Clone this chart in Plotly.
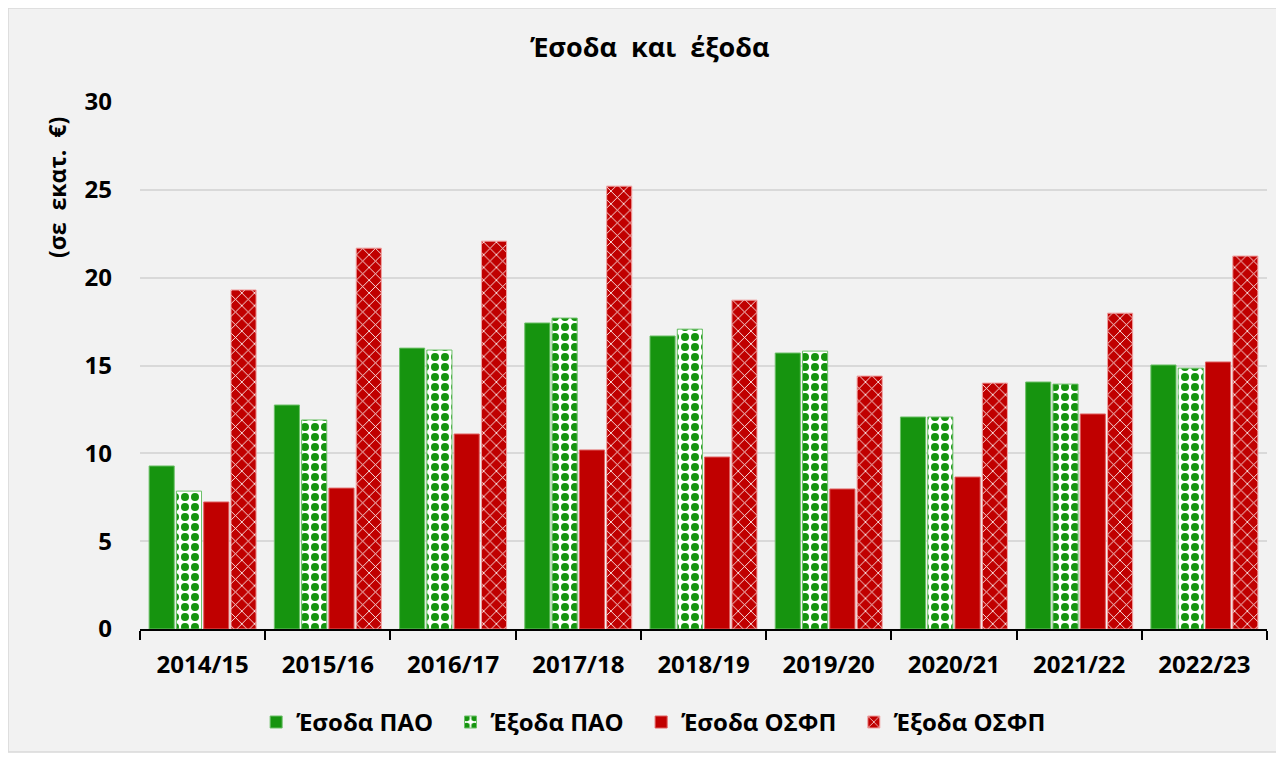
import plotly.graph_objects as go

years = ["2014/15", "2015/16", "2016/17", "2017/18", "2018/19", "2019/20", "2020/21", "2021/22", "2022/23"]
esoda_pao = [9.28, 12.75, 15.99, 17.42, 16.68, 15.71, 12.07, 14.06, 15.03]
exoda_pao = [7.85, 11.9, 15.88, 17.7, 17.07, 15.82, 12.07, 13.94, 14.85]
esoda_osfp = [7.23, 8.02, 11.1, 10.19, 9.79, 7.97, 8.65, 12.24, 15.2]
exoda_osfp = [19.3, 21.68, 22.08, 25.21, 18.72, 14.4, 14.0, 17.98, 21.23]
y_ticks = [0, 5, 10, 15, 20, 25, 30]

GREEN = "#16940f"
RED = "#c00000"
FONT = "Open Sans"
NB = "\u00a0"

fig = go.Figure()
fig.add_bar(x=years, y=esoda_pao, name="Έσοδα ΠΑΟ" + NB * 2,
            marker=dict(color=GREEN, line=dict(color="#6cc068", width=1)))
fig.add_bar(x=years, y=exoda_pao, name="Έξοδα ΠΑΟ" + NB * 2,
            marker=dict(color="white", line=dict(color="#6cc068", width=1),
                        pattern=dict(shape=".", fgcolor=GREEN, bgcolor="white",
                                     size=10, solidity=0.5, fillmode="replace")))
fig.add_bar(x=years, y=esoda_osfp, name="Έσοδα ΟΣΦΠ" + NB * 2,
            marker=dict(color=RED, line=dict(color="#e06060", width=1)))
fig.add_bar(x=years, y=exoda_osfp, name="Έξοδα ΟΣΦΠ",
            marker=dict(color=RED, line=dict(color="#f0a0a0", width=1),
                        pattern=dict(shape="x", fgcolor="white", bgcolor=RED,
                                     size=9, solidity=0.18, fillmode="replace")))

fig.update_layout(
    width=1276, height=752,
    margin=dict(l=132, r=17, t=94, b=131),
    paper_bgcolor="white",
    plot_bgcolor="rgba(0,0,0,0)",
    barmode="group", bargap=0.128, bargroupgap=0.08,
    font=dict(family=FONT, color="black", size=16),
    title=dict(text="<b>Έσοδα" + NB * 2 + "και" + NB * 2 + "έξοδα</b>", x=0.503, xanchor="center",
               y=0.947, yanchor="middle", font=dict(size=27, family=FONT, color="black")),
    showlegend=True,
    legend=dict(orientation="h", xref="container", yref="container",
                x=0.506, xanchor="center", y=0.05, yanchor="middle",
                font=dict(size=24, family=FONT, color="black", weight="bold"),
                itemwidth=30, bgcolor="rgba(0,0,0,0)", traceorder="normal"),
    shapes=[dict(type="rect", xref="paper", yref="paper",
                 x0=-0.1171, x1=1.0089, y0=-0.2334, y1=1.1784,
                 fillcolor="#f2f2f2", line=dict(color="#d9d9d9", width=1.5),
                 layer="below")],
    annotations=[dict(text="<b>(σε" + NB * 2 + "εκατ." + NB * 2 + "€)</b>", textangle=-90,
                      xref="paper", yref="paper", xanchor="center", yanchor="middle",
                      x=-0.0736, y=0.837, showarrow=False,
                      font=dict(size=23, family=FONT, color="black"))],
)

fig.update_xaxes(showline=True, linecolor="black", linewidth=1.5,
                 ticks="outside", tickson="boundaries", ticklen=9, tickwidth=1.5, tickcolor="black",
                 tickfont=dict(size=24, family=FONT, color="black", weight="bold"),
                 ticklabelstandoff=13, showgrid=False)
fig.update_yaxes(range=[0, 30], tickvals=y_ticks, showline=False, zeroline=False,
                 gridcolor="#d9d9d9", gridwidth=2,
                 tickfont=dict(size=24, family=FONT, color="black", weight="bold"),
                 ticklabelstandoff=27)

fig.write_html("out.html")
